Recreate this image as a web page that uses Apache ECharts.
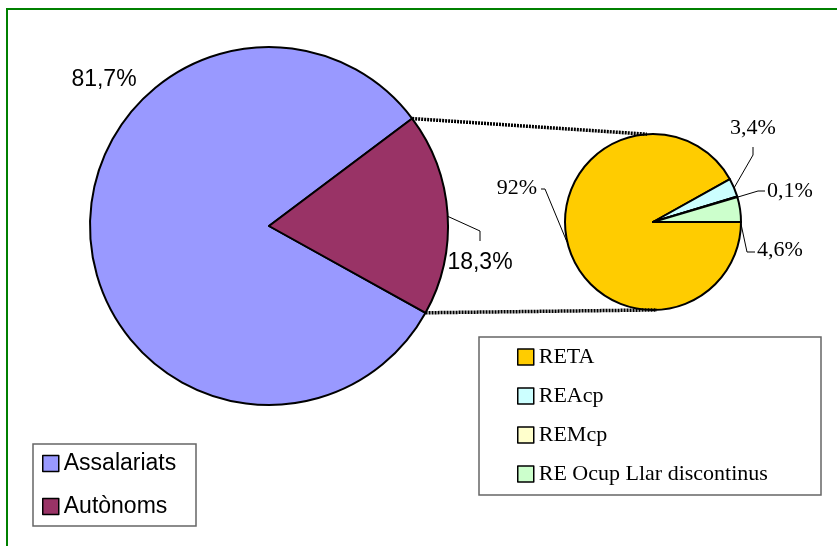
<!DOCTYPE html>
<html><head><meta charset="utf-8">
<script src="https://cdn.jsdelivr.net/npm/echarts@6/dist/echarts.min.js"></script>
<style>html,body{margin:0;padding:0;background:#fff}#c{width:837px;height:546px}</style>
</head><body><div id="c"></div>
<script>
// ---- data ----
const mainCategories = ['Assalariats', 'Autònoms'];
const mainValues = [81.7, 18.3];
const subCategories = ['RETA', 'REAcp', 'REMcp', 'RE Ocup Llar discontinus'];
const subValues = [92, 3.4, 0.1, 4.6];

// ---- styles / layout ----
const mainColors = ['#9999FF', '#993366'];
const subColors = ['#FFCC00', '#CCFFFF', '#FFFFCC', '#CCFFCC'];
const L = { c: [269, 226], r: 179, start: -29 };
const R = { c: [653, 222], r: 88, start: 0 };
const subConnectAngles = [94, -87.5];

const labelPlacement = {
  'Assalariats': { x: 104, y: 80, align: 'center', pts: null },
  'Autònoms': { x: 480, y: 263, align: 'center', pts: [[447, 216], [480, 231], [480, 241]] },
  'RETA': { x: 537, y: 188, align: 'right', pts: [[567, 242], [545, 189], [541, 189]] },
  'REAcp': { x: 753, y: 128, align: 'center', pts: [[734, 188], [753, 155], [753, 147]] },
  'REMcp': { x: 767, y: 191, align: 'left', pts: [[738, 197], [758, 191], [765, 191]] },
  'RE Ocup Llar discontinus': { x: 757, y: 250, align: 'left', pts: [[741, 224], [747, 252], [755, 252]] }
};

const fmt = v => (Number.isInteger(v) ? String(v) : v.toFixed(1).replace('.', ',')) + '%';

function makeLayout(names) {
  return function (params) {
    const p = labelPlacement[names[params.dataIndex]];
    const o = { x: p.x, y: p.y, align: p.align, verticalAlign: 'middle' };
    if (p.pts) o.labelLinePoints = p.pts;
    return o;
  };
}

function pt(C, a) {
  const rad = a * Math.PI / 180;
  return [C.c[0] + C.r * Math.cos(rad), C.c[1] - C.r * Math.sin(rad)];
}
const mainSum = mainValues.reduce((a, b) => a + b, 0);
const autTop = L.start - mainValues[0] / mainSum * 360;
const lTop = pt(L, autTop), lBot = pt(L, L.start);
const rTop = pt(R, subConnectAngles[0]), rBot = pt(R, subConnectAngles[1]);

const chart = echarts.init(document.getElementById('c'), null, { renderer: 'canvas' });
const serifFont = '"Liberation Serif", "Times New Roman", serif';
const sansFont = '"Liberation Sans", Arial, sans-serif';

chart.setOption({
  animation: false,
  backgroundColor: '#fff',
  graphic: [
    { type: 'rect', z: 1, shape: { x: 7, y: 9, width: 900, height: 600 }, style: { fill: 'none', stroke: '#008000', lineWidth: 2 } },
    { type: 'rect', z: 1, shape: { x: 33, y: 444, width: 163, height: 82 }, style: { fill: '#fff', stroke: '#666', lineWidth: 1.5 } },
    { type: 'rect', z: 1, shape: { x: 479, y: 337, width: 342, height: 158 }, style: { fill: '#fff', stroke: '#666', lineWidth: 1.5 } },
    { type: 'polyline', z: 10, shape: { points: [lTop, rTop] }, style: { stroke: '#000', lineWidth: 3.5, lineDash: [2, 1], fill: 'none' } },
    { type: 'polyline', z: 10, shape: { points: [lBot, rBot] }, style: { stroke: '#000', lineWidth: 3.5, lineDash: [2, 1], fill: 'none' } }
  ],
  legend: [
    {
      data: mainCategories, orient: 'vertical', left: 42, top: 452,
      itemWidth: 16, itemHeight: 16, itemGap: 20, icon: 'rect', padding: 0,
      itemStyle: { borderColor: '#000', borderWidth: 1.5 },
      textStyle: { fontFamily: sansFont, fontSize: 23, color: '#000' },
      selectedMode: false
    },
    {
      data: subCategories, orient: 'vertical', left: 517, top: 346,
      itemWidth: 16, itemHeight: 16, itemGap: 17, icon: 'rect', padding: 0,
      itemStyle: { borderColor: '#000', borderWidth: 1.5 },
      textStyle: { fontFamily: serifFont, fontSize: 22, color: '#000' },
      selectedMode: false
    }
  ],
  series: [
    {
      type: 'pie', center: L.c, radius: L.r, startAngle: L.start, clockwise: true,
      avoidLabelOverlap: false, silent: true,
      itemStyle: { borderColor: '#000', borderWidth: 2 },
      label: { show: true, position: 'outside', formatter: p => fmt(p.value), fontFamily: sansFont, fontSize: 23, color: '#000' },
      labelLine: { show: true, lineStyle: { color: '#000', width: 1 } },
      labelLayout: makeLayout(mainCategories),
      emphasis: { disabled: true },
      data: mainCategories.map((n, i) => ({
        name: n, value: mainValues[i], itemStyle: { color: mainColors[i] },
        labelLine: { show: labelPlacement[n].pts !== null }
      }))
    },
    {
      type: 'pie', center: R.c, radius: R.r, startAngle: R.start, clockwise: true,
      avoidLabelOverlap: false, silent: true,
      itemStyle: { borderColor: '#000', borderWidth: 2 },
      label: { show: true, position: 'outside', formatter: p => fmt(p.value), fontFamily: serifFont, fontSize: 22, color: '#000' },
      labelLine: { show: true, lineStyle: { color: '#000', width: 1 } },
      labelLayout: makeLayout(subCategories),
      emphasis: { disabled: true },
      data: subCategories.map((n, i) => ({ name: n, value: subValues[i], itemStyle: { color: subColors[i] } }))
    }
  ]
});
</script></body></html>
